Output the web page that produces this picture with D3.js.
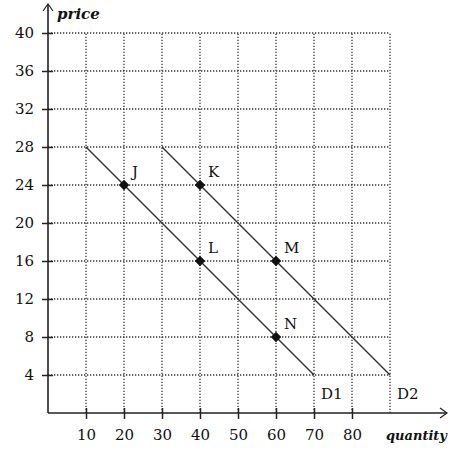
<!DOCTYPE html>
<html>
<head>
<meta charset="utf-8">
<script src="https://cdn.jsdelivr.net/npm/d3@7"></script>
<style>
  body { margin: 0; background: #fff; }
  text { font-family: "DejaVu Serif", serif; fill: #111; }
</style>
</head>
<body>
<svg width="450" height="449"></svg>
<script>
// chart values
const xTicks = [10, 20, 30, 40, 50, 60, 70, 80];
const yTicks = [4, 8, 12, 16, 20, 24, 28, 32, 36, 40];
const xGrid = [10, 20, 30, 40, 50, 60, 70, 80, 90];
const d1 = [{q: 10, p: 28}, {q: 70, p: 4}];
const d2 = [{q: 30, p: 28}, {q: 90, p: 4}];
const pointNames = ["J", "K", "L", "M", "N"];
const pointQ = [20, 40, 40, 60, 60];
const pointP = [24, 24, 16, 16, 8];
const curveNames = ["D1", "D2"];

let svg = d3.select("svg"),
    margin = {top: 33, left: 48},
    width = 342,   // 0..90
    height = 380,  // 0..40
    g = svg.append("g").attr("transform", "translate(" + margin.left + "," + margin.top + ")");

const x = d3.scaleLinear().domain([0, 90]).range([0, width]);
const y = d3.scaleLinear().domain([0, 40]).range([height, 0]);

// dotted grid
g.append("g").selectAll("line")
    .data(xGrid)
  .enter().append("line")
    .attr("x1", d => x(d)).attr("x2", d => x(d))
    .attr("y1", y(0)).attr("y2", y(40))
    .attr("stroke", "#333").attr("stroke-width", 1.3)
    .attr("stroke-dasharray", "1.3,1.7");

g.append("g").selectAll("line")
    .data(yTicks)
  .enter().append("line")
    .attr("x1", x(0)).attr("x2", x(90))
    .attr("y1", d => y(d)).attr("y2", d => y(d))
    .attr("stroke", "#333").attr("stroke-width", 1.3)
    .attr("stroke-dasharray", "1.3,1.7");

// axes
const yAxis = g.append("g")
    .call(d3.axisLeft(y).tickValues(yTicks).tickSize(6).tickPadding(8));
yAxis.select(".domain").remove();
yAxis.selectAll(".tick line").attr("x2", 5).attr("x1", -6).attr("stroke", "#222").attr("stroke-width", 1.5);
yAxis.selectAll(".tick text").attr("x", -14).style("font-size", "15px").style("font-family", "DejaVu Serif");

const xAxis = g.append("g")
    .attr("transform", "translate(0," + height + ")")
    .call(d3.axisBottom(x).tickValues(xTicks).tickSize(6).tickPadding(8));
xAxis.select(".domain").remove();
xAxis.selectAll(".tick line").attr("y1", -5).attr("y2", 6).attr("stroke", "#222").attr("stroke-width", 1.5);
xAxis.selectAll(".tick text").attr("y", 16).style("font-size", "15px").style("font-family", "DejaVu Serif");

// axis lines with arrowheads
g.append("line")
    .attr("x1", 0).attr("y1", y(0)).attr("x2", 0).attr("y2", -28)
    .attr("stroke", "#222").attr("stroke-width", 1.6);
g.append("path")
    .attr("d", "M-5," + (-22) + "L0," + (-29) + "L5," + (-22))
    .attr("fill", "none").attr("stroke", "#222").attr("stroke-width", 1.2);
g.append("line")
    .attr("x1", 0).attr("y1", y(0)).attr("x2", 398).attr("y2", y(0))
    .attr("stroke", "#222").attr("stroke-width", 1.6);
g.append("path")
    .attr("d", "M392," + (height - 5) + "L399," + height + "L392," + (height + 5))
    .attr("fill", "none").attr("stroke", "#222").attr("stroke-width", 1.2);

g.append("text")
    .attr("x", 9).attr("y", -14)
    .style("font-size", "15px").style("font-style", "italic").style("font-weight", "bold")
    .text("price");
g.append("text")
    .attr("x", 338).attr("y", 407)
    .style("font-size", "13px").style("font-style", "italic").style("font-weight", "bold")
    .text("quantity");

// demand curves
const line_gen = d3.line().x(d => x(d.q)).y(d => y(d.p));
[d1, d2].forEach((c, i) => {
  g.append("path").datum(c)
      .attr("d", line_gen)
      .attr("fill", "none").attr("stroke", "#333").attr("stroke-width", 1.4);
  g.append("text")
      .attr("x", x(c[1].q) + 7).attr("y", y(c[1].p) + 24)
      .style("font-size", "15px")
      .text(curveNames[i]);
});

// points
const pts = pointNames.map((n, i) => ({name: n, q: pointQ[i], p: pointP[i]}));
g.append("g").selectAll("path")
    .data(pts)
  .enter().append("path")
    .attr("transform", d => "translate(" + x(d.q) + "," + y(d.p) + ")")
    .attr("d", d3.symbol().type(d3.symbolDiamond2).size(70))
    .attr("fill", "#111");
g.append("g").selectAll("text")
    .data(pts)
  .enter().append("text")
    .attr("x", d => x(d.q) + 8).attr("y", d => y(d.p) - 8)
    .style("font-size", "15px")
    .text(d => d.name);
</script>
</body>
</html>
